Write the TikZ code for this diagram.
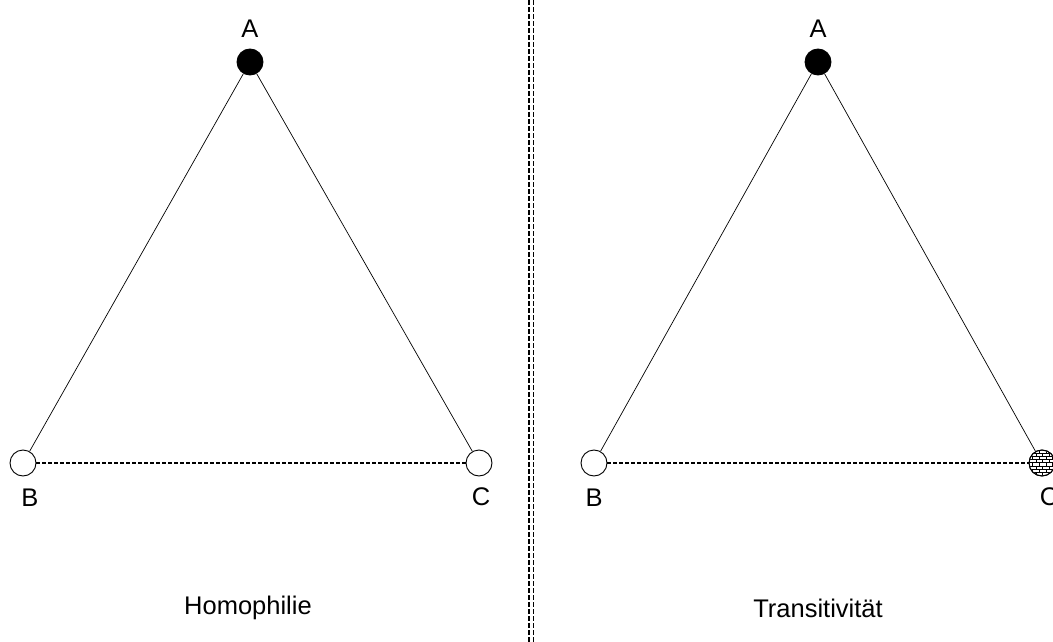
\documentclass[tikz,border=0pt]{standalone}
\usepackage{fontspec}
\setmainfont{Liberation Sans}
\begin{document}
\begin{tikzpicture}[x=1pt,y=-1pt,
  vertex/.style={circle,draw,line width=0.9pt,minimum size=26pt,inner sep=0pt,fill=white},
  filled/.style={vertex,fill=black},
  tie/.style={line width=0.7pt},
  weak/.style={line width=1.3pt,dash pattern=on 4pt off 2pt},
  lbl/.style={font=\fontsize{25.5}{30}\selectfont,inner sep=0pt},
  divider/.style={line width=1.8pt,dash pattern=on 5pt off 2pt}]
\useasboundingbox (0,0) rectangle (1053,642);
\clip (0,0) rectangle (1053,642);

% vertical separator between the two panels
\coordinate (d1t) at (529,0);  \coordinate (d1b) at (529,642);
\coordinate (d2t) at (533.5,0);\coordinate (d2b) at (533.5,642);
\draw[divider] (d1t) -- (d1b);
\draw[divider] (d2t) -- (d2b);

% left panel: homophily
\node[filled] (lA) at (250,62) {};
\node[vertex] (lB) at (23,463) {};
\node[vertex] (lC) at (479,463) {};
\draw[tie] (lA) -- (lB);
\draw[tie] (lA) -- (lC);
\draw[weak] (lB) -- (lC);
\node[lbl] (lAl) at (250,29) {A};
\node[lbl] (lBl) at (30,498) {B};
\node[lbl] (lCl) at (481,497) {C};
\node[lbl] (lT) at (248,608) {Homophilie};

% right panel: transitivity
\node[filled] (rA) at (818,62) {};
\node[vertex] (rB) at (594,463) {};
\node[vertex] (rC) at (1042,463) {};
\draw[tie] (rA) -- (rB);
\draw[tie] (rA) -- (rC);
\draw[weak] (rB) -- (rC);
% brick fill of the third vertex
\begin{scope}
  \clip (rC.center) circle (12.5pt);
  \foreach \r in {0,...,8} {
    \pgfmathsetmacro{\yy}{449.5+3.3*\r}
    \draw[line width=0.6pt] (1025,\yy) -- (1060,\yy);
    \pgfmathsetmacro{\off}{mod(\r,2)*3.3}
    \foreach \c in {0,...,6} {
      \pgfmathsetmacro{\xx}{1026+\off+6.6*\c}
      \draw[line width=0.6pt] (\xx,\yy) -- (\xx,\yy+3.3);
    }
  }
\end{scope}
\draw[line width=0.9pt] (rC) circle (13pt);
\node[lbl] (rAl) at (818,29) {A};
\node[lbl] (rBl) at (594,498) {B};
\node[lbl] (rCl) at (1049,497) {C};
\node[lbl] (rT) at (818,608) {Transitivität};
\end{tikzpicture}
\end{document}
